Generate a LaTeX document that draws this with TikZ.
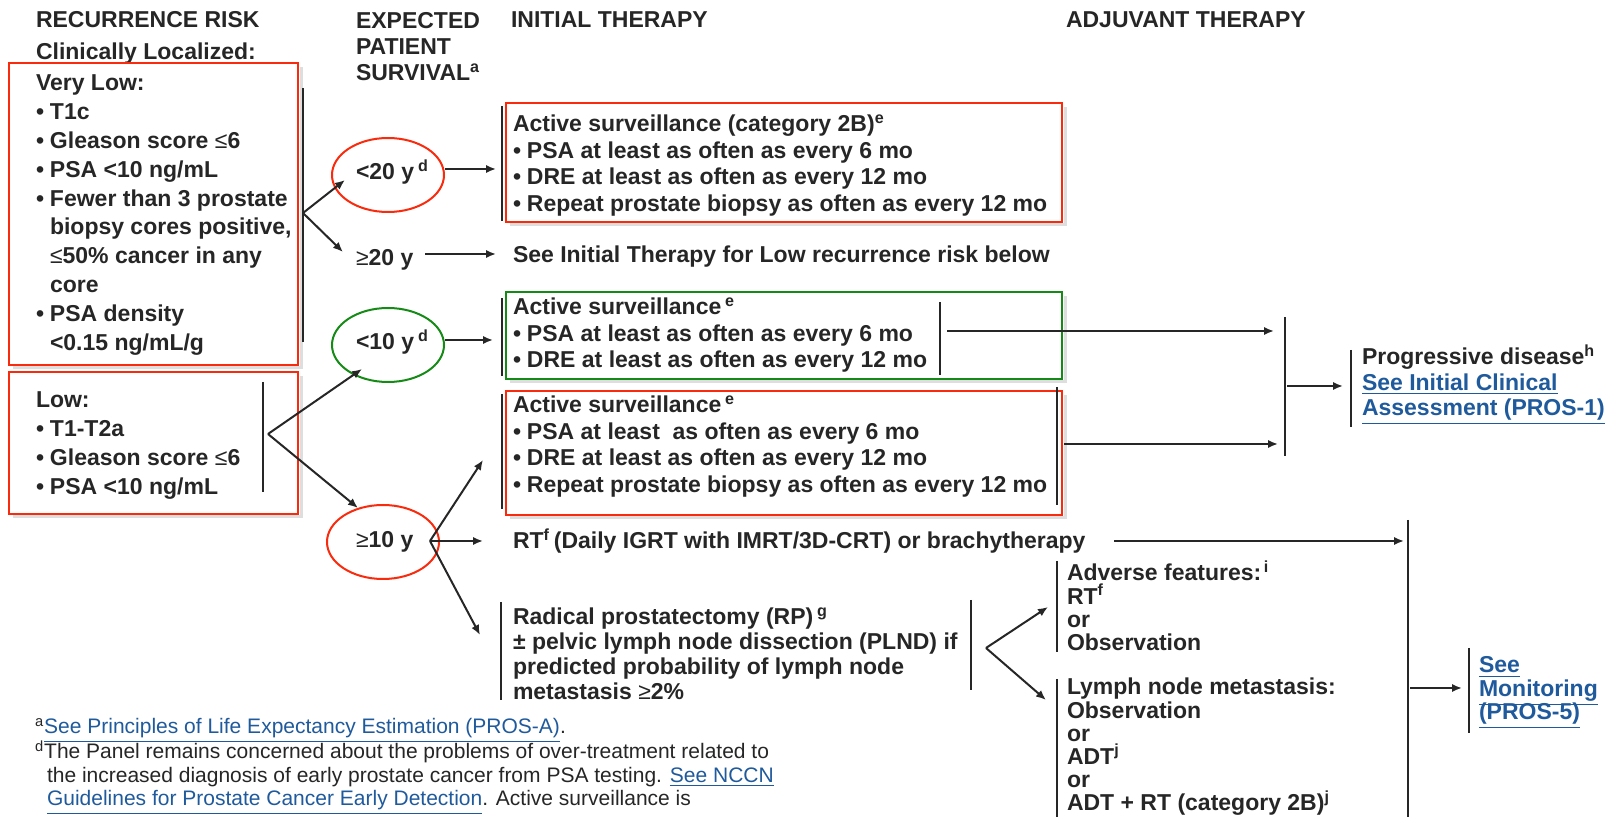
\documentclass[tikz,border=0pt]{standalone}
\usepackage{fontspec}
\setmainfont{Liberation Sans}
\usetikzlibrary{arrows.meta,shapes.geometric}
\definecolor{ink}{RGB}{38,38,38}
\definecolor{hlred}{RGB}{250,42,12}
\definecolor{hlgreen}{RGB}{22,138,22}
\definecolor{linkblue}{RGB}{31,90,156}
\newcommand{\bitem}{\makebox[7pt][l]{•}}
\newcommand{\bcont}{\hspace*{7pt}}
\newcommand{\lnk}[1]{{\color{linkblue}\underline{#1}}}
\newcommand{\fst}{\rule{0pt}{11pt}}
\newcommand{\nst}{\rule{0pt}{10pt}}
\newcommand{\sle}{{\mdseries ≤}}
\newcommand{\sge}{{\mdseries ≥}}
% highlight frame with its soft shadow: colour, x1, y1, x2, y2
\newcommand{\hlframe}[5]{%
  \draw[hlshade] (#2+4,#5+3) -- (#4+3,#5+3) -- (#4+3,#3+4);
  \draw[hlbox=#1] (#2,#3) rectangle (#4,#5);}
\setlength{\lineskiplimit}{-20pt}
\tikzset{
  chart/.style={x=0.5pt, y=-0.5pt, line width=1pt, color=ink},
  txt/.style={anchor=base west, inner sep=0pt, font=\bfseries\fontsize{11.5}{13.2}\selectfont},
  blk/.style={anchor=north west, align=left, inner sep=0pt,
    font=\bfseries\fontsize{11.5}{#1}\selectfont},
  blk/.default=13.2,
  note/.style={anchor=north west, align=left, inner sep=0pt,
    font=\fontsize{10.5}{11.75}\selectfont},
  ring/.style={ellipse, draw=#1, line width=1pt, minimum width=56pt, minimum height=37pt, inner sep=0pt},
  hlbox/.style={draw=#1, line width=1pt},
  hlshade/.style={draw=black!13, line width=1.5pt},
  bar/.style={draw=ink, line width=1pt},
  arr/.style={draw=ink, line width=1pt, -{Latex[length=5pt,width=4.2pt]}},
}
\begin{document}
\begin{tikzpicture}[chart]
  \useasboundingbox (0,0) rectangle (1614,817);
  \clip (0,0) rectangle (1614,817);
  % column headings
  \node[txt] (hrisk) at (35,28) {RECURRENCE RISK};
  \node[txt] (hloc) at (35,60) {Clinically Localized:};
  \node[blk=13] (hsurv) at (355,6) {\fst EXPECTED\\PATIENT\\SURVIVAL\textsuperscript{a}};
  \node[txt] (hinit) at (510,28) {INITIAL THERAPY};
  \node[txt] (hadj) at (1065,28) {ADJUVANT THERAPY};
  % recurrence risk, left
  \node[blk=14.4] (vlow) at (35,68) {\fst Very Low:\\
    \bitem T1c\\ \bitem Gleason score \sle6\\ \bitem PSA <10 ng/mL\\
    \bitem Fewer than 3 prostate\\ \bcont biopsy cores positive,\\
    \bcont \sle50\% cancer in any\\ \bcont core\\
    \bitem PSA density\\ \bcont <0.15 ng/mL/g};
  \hlframe{hlred}{9}{63}{298}{365}
  \node[blk=14.4] (lowrisk) at (35,385) {\fst Low:\\ \bitem T1-T2a\\
    \bitem Gleason score \sle6\\ \bitem PSA <10 ng/mL};
  \hlframe{hlred}{9}{372}{298}{514}
  \draw[bar] (303,88) -- (303,342);
  \coordinate (vlfork) at (303,213);
  \draw[bar] (263,382) -- (263,492);
  \coordinate (lowfork) at (268,434);
  % expected survival
  \node[txt] (lt20) at (355,180) {<20 y\,\textsuperscript{d}};
  \node[ring=hlred] (lt20ring) at (388,175) {};
  \node[txt] (ge20) at (355,266) {\sge20 y};
  \node[txt] (lt10) at (355,350) {<10 y\,\textsuperscript{d}};
  \node[ring=hlgreen] (lt10ring) at (388,345) {};
  \node[txt] (ge10) at (355,548) {\sge10 y};
  \node[ring=hlred] (ge10ring) at (383,542) {};
  \draw[arr] (vlfork) -- ([shift={(-43,5)}]lt20ring.center);
  \draw[arr] (vlfork) -- ([shift={(-12,-14)}]ge20.base west);
  \draw[arr] (lowfork) -- ([shift={(-26,24)}]lt10ring.center);
  \draw[arr] (lowfork) -- ([shift={(-25,-34)}]ge10ring.center);
  \coordinate (ge10fork) at ([shift={(47,-1)}]ge10ring.center);
  % initial therapy
  \node[blk] (asA) at (512,109) {\fst Active surveillance (category 2B)\textsuperscript{e}\\
    \bitem PSA at least as often as every 6 mo\\
    \bitem DRE at least as often as every 12 mo\\
    \bitem Repeat prostate biopsy as often as every 12 mo};
  \hlframe{hlred}{506}{103}{1062}{222}
  \draw[bar] ([shift={(-10,-3)}]asA.north west) -- ([shift={(-10,112)}]asA.north west);
  \draw[arr] ([shift={(57,-6)}]lt20ring.center) -- ([shift={(-16,60)}]asA.north west);
  \node[txt] (seelow) at (512,263) {See Initial Therapy for Low recurrence risk below};
  \draw[arr] ([shift={(70,-12)}]ge20.base west) -- ([shift={(-16,-9)}]seelow.base west);
  \node[blk] (asB) at (512,292) {\fst Active surveillance\,\textsuperscript{e}\\
    \bitem PSA at least as often as every 6 mo\\
    \bitem DRE at least as often as every 12 mo};
  \hlframe{hlgreen}{506}{292}{1062}{379}
  \draw[bar] ([shift={(-10,6)}]asB.north west) -- ([shift={(-10,84)}]asB.north west);
  \draw[bar] ([shift={(428,10)}]asB.north west) -- ([shift={(428,83)}]asB.north west);
  \draw[arr] ([shift={(57,-5)}]lt10ring.center) -- ([shift={(-19,48)}]asB.north west);
  \node[blk] (asC) at (512,390) {\fst Active surveillance\,\textsuperscript{e}\\
    \bitem PSA at least\ \ as often as every 6 mo\\
    \bitem DRE at least as often as every 12 mo\\
    \bitem Repeat prostate biopsy as often as every 12 mo};
  \hlframe{hlred}{506}{391}{1062}{515}
  \draw[bar] ([shift={(-10,4)}]asC.north west) -- ([shift={(-10,119)}]asC.north west);
  \draw[bar] ([shift={(545,-3)}]asC.north west) -- ([shift={(545,115)}]asC.north west);
  \draw[arr] (ge10fork) -- ([shift={(-29,70)}]asC.north west);
  \node[txt] (rt) at (512,549) {RT\textsuperscript{f}\,(Daily IGRT with IMRT/3D-CRT) or brachytherapy};
  \draw[arr] (ge10fork) -- ([shift={(-29,-8)}]rt.base west);
  \node[blk=12.5] (rp) at (512,602) {\fst Radical prostatectomy (RP)\,\textsuperscript{g}\\
    ± pelvic lymph node dissection (PLND) if\\
    predicted probability of lymph node\\
    metastasis \sge2\%};
  \draw[bar] ([shift={(-11,0)}]rp.north west) -- ([shift={(-11,98)}]rp.north west);
  \draw[bar] ([shift={(459,-2)}]rp.north west) -- ([shift={(459,88)}]rp.north west);
  \draw[arr] (ge10fork) -- ([shift={(-32,33)}]rp.north west);
  % adjuvant therapy
  \coordinate (progbar) at (1285,386);
  \draw[bar] (1285,317) -- (1285,456);
  \draw[arr] ([shift={(435,39)}]asB.north west) -- ([shift={(-11,-55)}]progbar);
  \draw[arr] ([shift={(552,54)}]asC.north west) -- ([shift={(-7,58)}]progbar);
  \node[blk=12.75] (prog) at (1361,342) {\fst Progressive disease\textsuperscript{h}\\
    \lnk{See Initial Clinical}\\ \lnk{Assessment (PROS-1)}};
  \draw[bar] ([shift={(-10,8)}]prog.north west) -- ([shift={(-10,85)}]prog.north west);
  \draw[arr] ([shift={(2,0)}]progbar) -- ([shift={(-18,44)}]prog.north west);
  \coordinate (rpfork) at ([shift={(474,46)}]rp.north west);
  \node[blk=11.6] (adverse) at (1066,558) {\fst Adverse features:\textsuperscript{\,i}\\
    RT\textsuperscript{f}\\ or\\ Observation};
  \draw[bar] ([shift={(-9,3)}]adverse.north west) -- ([shift={(-9,94)}]adverse.north west);
  \node[blk=11.6] (lymph) at (1066,672) {\fst Lymph node metastasis:\\ Observation\\ or\\
    ADT\textsuperscript{j}\\ or\\ ADT + RT (category 2B)\textsuperscript{j}};
  \draw[bar] ([shift={(-9,7)}]lymph.north west) -- ([shift={(-9,150)}]lymph.north west);
  \draw[arr] (rpfork) -- ([shift={(-18,49)}]adverse.north west);
  \draw[arr] (rpfork) -- ([shift={(-20,28)}]lymph.north west);
  \coordinate (monbar) at (1408,688);
  \draw[bar] (1408,520) -- (1408,830);
  \draw[arr] ([shift={(602,-8)}]rt.base west) -- ([shift={(-4,-147)}]monbar);
  \node[blk=11.75] (monit) at (1478,650) {\fst\lnk{See}\\ \lnk{Monitoring}\\ \lnk{(PROS-5)}};
  \draw[bar] ([shift={(-9,-2)}]monit.north west) -- ([shift={(-9,83)}]monit.north west);
  \draw[arr] ([shift={(2,0)}]monbar) -- ([shift={(-16,38)}]monit.north west);
  % footnotes
  \node[note] (fna) at (34,713) {\nst\textsuperscript{a}\lnk{See Principles of Life Expectancy Estimation (PROS-A)}.};
  \node[note] (fnd) at (34,738) {\nst\textsuperscript{d}The Panel remains concerned about the problems of over-treatment related to\\
    \hspace*{6pt}the increased diagnosis of early prostate cancer from PSA testing. \lnk{See NCCN}\\
    \hspace*{6pt}\lnk{Guidelines for Prostate Cancer Early Detection}. Active surveillance is};
\end{tikzpicture}
\end{document}
